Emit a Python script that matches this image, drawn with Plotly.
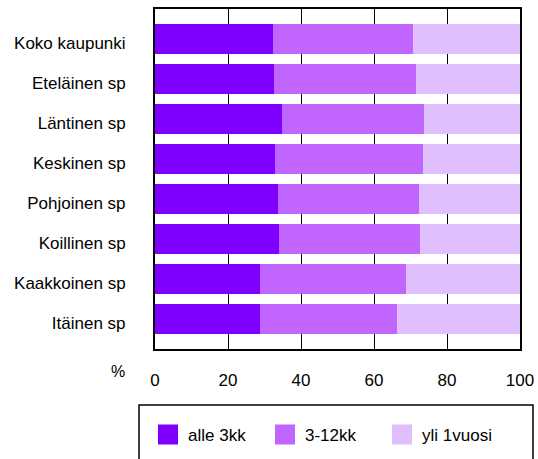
import plotly.graph_objects as go

# areas, top to bottom
areas = ['Koko kaupunki', 'Eteläinen sp', 'Läntinen sp', 'Keskinen sp',
         'Pohjoinen sp', 'Koillinen sp', 'Kaakkoinen sp', 'Itäinen sp']

# share of unemployment duration (%)
alle_3kk = [32.2, 32.5, 34.7, 33.0, 33.6, 34.1, 28.9, 28.9]
kk_3_12 = [38.6, 39.1, 38.9, 40.3, 38.6, 38.4, 40.0, 37.3]
yli_1v = [29.2, 28.4, 26.4, 26.7, 27.8, 27.5, 31.1, 33.8]

series = ['alle 3kk', '3-12kk', 'yli 1vuosi']
colors = ['#8000FF', '#C066FF', '#E0BFFF']
x_ticks = [0, 20, 40, 60, 80, 100]

FONT = 'Liberation Sans, Arial, sans-serif'
W, H = 538, 459
L, R, T, B = 155, 18, 8.5, 110
pw, ph = W - L - R, H - T - B

fig = go.Figure()

for name, vals, col in zip(series, [alle_3kk, kk_3_12, yli_1v], colors):
    fig.add_trace(go.Bar(
        y=areas, x=vals, name=name, orientation='h',
        marker=dict(color=col, line=dict(width=0)),
        showlegend=False,
    ))

# legend entries with bigger square keys
for name, col in zip(series, colors):
    fig.add_trace(go.Scatter(
        x=[None], y=[None], mode='markers', name=name,
        marker=dict(symbol='square', size=16, color=col,
                    line=dict(color=col, width=4)),
    ))

# legend frame, cut by the bottom edge like in the original
def px_x(p):
    return (p - L) / pw

def px_y(p):
    return (H - B - p) / ph

fig.add_shape(type='rect', xref='paper', yref='paper',
              x0=px_x(139), x1=px_x(533), y0=px_y(405), y1=px_y(480),
              line=dict(color='black', width=1.5), fillcolor='rgba(0,0,0,0)')

fig.add_annotation(text='%', xref='paper', yref='paper',
                   x=px_x(118), y=px_y(372), xanchor='center', yanchor='middle',
                   showarrow=False,
                   font=dict(size=16, color='black', family=FONT))

fig.update_layout(
    width=W, height=H,
    margin=dict(l=L, r=R, t=T, b=B, autoexpand=False),
    barmode='stack', bargap=0.25,
    paper_bgcolor='white', plot_bgcolor='white',
    font=dict(family=FONT, size=17, color='black'),
    showlegend=True,
    legend=dict(orientation='h', x=px_x(148), xanchor='left',
                y=px_y(417), yanchor='top', traceorder='normal',
                entrywidth=72, font=dict(size=17),
                bgcolor='rgba(0,0,0,0)', borderwidth=0),
)

fig.update_xaxes(range=[0, 100], tickvals=x_ticks, showgrid=True,
                 gridcolor='black', gridwidth=1, zeroline=False,
                 showline=True, linecolor='black', linewidth=2, mirror=True,
                 ticks='', ticklabelstandoff=15, tickfont=dict(size=17))
fig.update_yaxes(categoryorder='array', categoryarray=areas,
                 range=[len(areas) - 0.5 + 0.26, -0.76],
                 showgrid=False, zeroline=False,
                 showline=True, linecolor='black', linewidth=2, mirror=True,
                 ticks='', ticklabelstandoff=24, ticklabelshift=-4,
                 tickfont=dict(size=17))

# drop the default page margin so the figure sits at the window corner
fig.write_html('out.html', config={'displayModeBar': False},
               post_script="document.body.style.margin='0';")
